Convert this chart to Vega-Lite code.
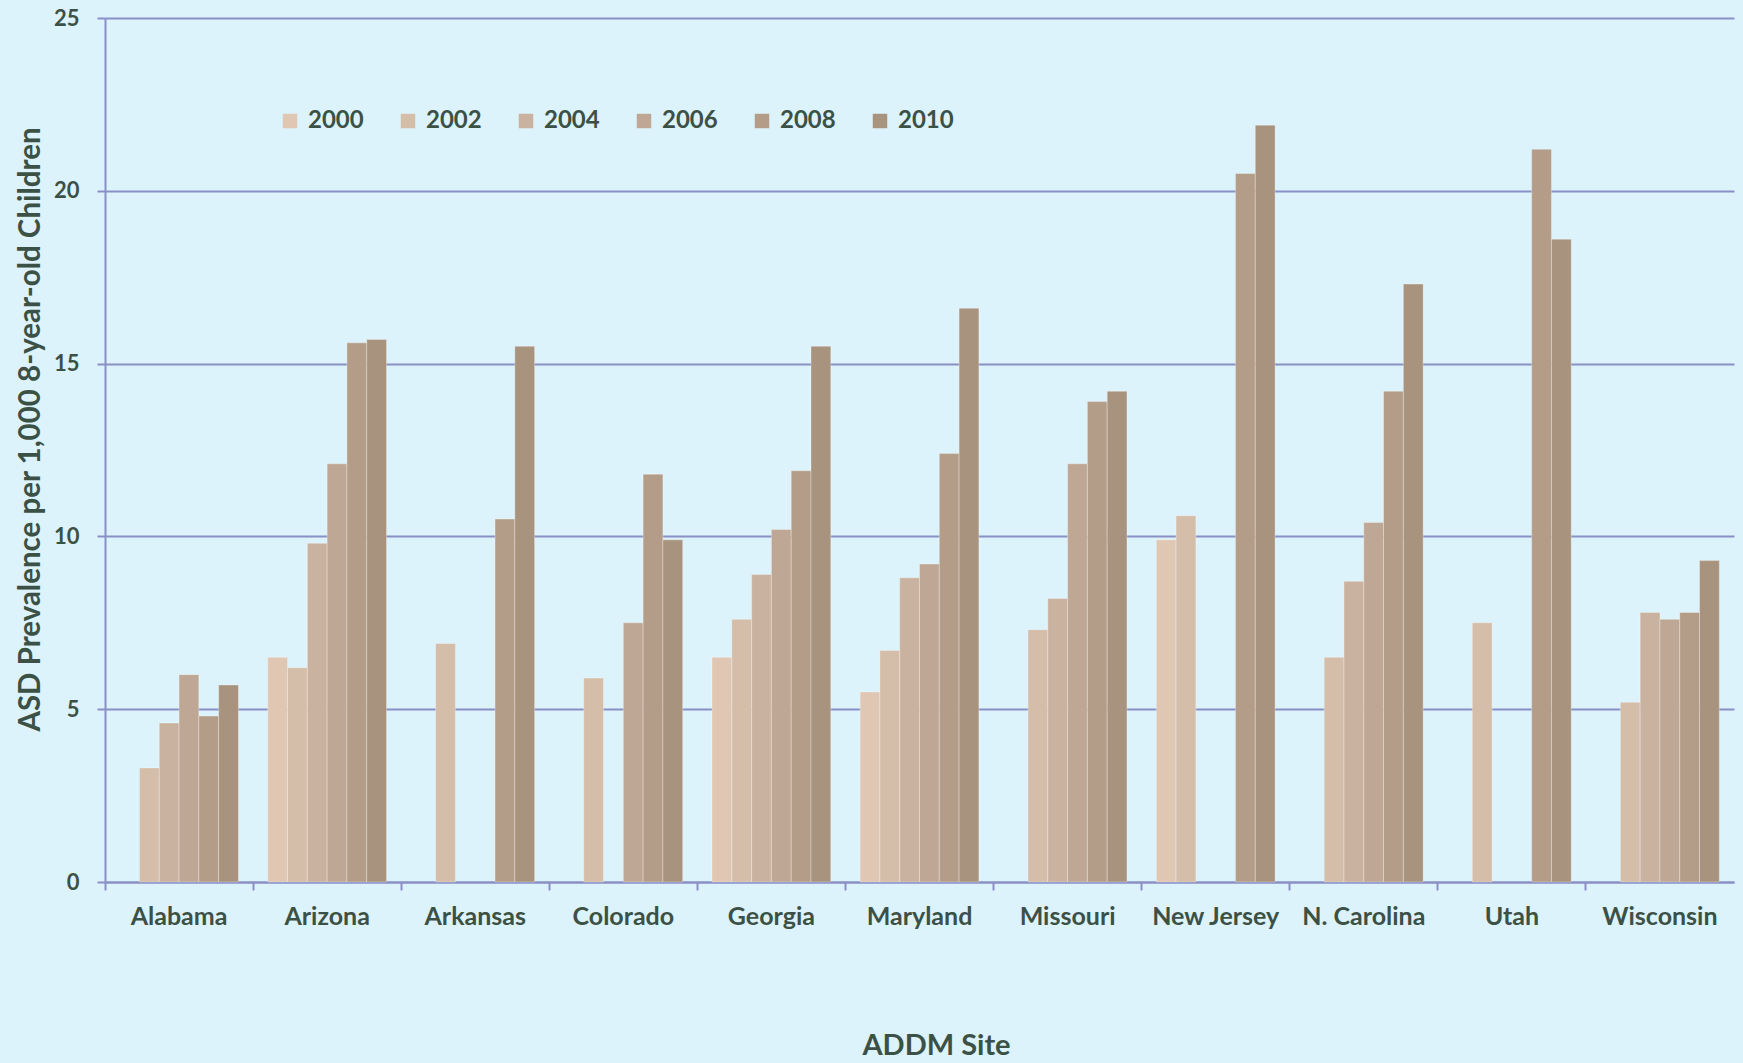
{
  "$schema": "https://vega.github.io/schema/vega-lite/v6.json",
  "width": 1629,
  "height": 864,
  "autosize": {"type": "none"},
  "padding": {"left": 105, "top": 18, "right": 9, "bottom": 181},
  "background": "#ddf3fc",
  "config": {
    "view": {"stroke": null},
    "font": "Lato"
  },
  "data": {
    "values": [
      {"site": "Alabama", "year": "2002", "value": 3.3},
      {"site": "Alabama", "year": "2004", "value": 4.6},
      {"site": "Alabama", "year": "2006", "value": 6.0},
      {"site": "Alabama", "year": "2008", "value": 4.8},
      {"site": "Alabama", "year": "2010", "value": 5.7},
      {"site": "Arizona", "year": "2000", "value": 6.5},
      {"site": "Arizona", "year": "2002", "value": 6.2},
      {"site": "Arizona", "year": "2004", "value": 9.8},
      {"site": "Arizona", "year": "2006", "value": 12.1},
      {"site": "Arizona", "year": "2008", "value": 15.6},
      {"site": "Arizona", "year": "2010", "value": 15.7},
      {"site": "Arkansas", "year": "2002", "value": 6.9},
      {"site": "Arkansas", "year": "2008", "value": 10.5},
      {"site": "Arkansas", "year": "2010", "value": 15.5},
      {"site": "Colorado", "year": "2002", "value": 5.9},
      {"site": "Colorado", "year": "2006", "value": 7.5},
      {"site": "Colorado", "year": "2008", "value": 11.8},
      {"site": "Colorado", "year": "2010", "value": 9.9},
      {"site": "Georgia", "year": "2000", "value": 6.5},
      {"site": "Georgia", "year": "2002", "value": 7.6},
      {"site": "Georgia", "year": "2004", "value": 8.9},
      {"site": "Georgia", "year": "2006", "value": 10.2},
      {"site": "Georgia", "year": "2008", "value": 11.9},
      {"site": "Georgia", "year": "2010", "value": 15.5},
      {"site": "Maryland", "year": "2000", "value": 5.5},
      {"site": "Maryland", "year": "2002", "value": 6.7},
      {"site": "Maryland", "year": "2004", "value": 8.8},
      {"site": "Maryland", "year": "2006", "value": 9.2},
      {"site": "Maryland", "year": "2008", "value": 12.4},
      {"site": "Maryland", "year": "2010", "value": 16.6},
      {"site": "Missouri", "year": "2002", "value": 7.3},
      {"site": "Missouri", "year": "2004", "value": 8.2},
      {"site": "Missouri", "year": "2006", "value": 12.1},
      {"site": "Missouri", "year": "2008", "value": 13.9},
      {"site": "Missouri", "year": "2010", "value": 14.2},
      {"site": "New Jersey", "year": "2000", "value": 9.9},
      {"site": "New Jersey", "year": "2002", "value": 10.6},
      {"site": "New Jersey", "year": "2008", "value": 20.5},
      {"site": "New Jersey", "year": "2010", "value": 21.9},
      {"site": "N. Carolina", "year": "2002", "value": 6.5},
      {"site": "N. Carolina", "year": "2004", "value": 8.7},
      {"site": "N. Carolina", "year": "2006", "value": 10.4},
      {"site": "N. Carolina", "year": "2008", "value": 14.2},
      {"site": "N. Carolina", "year": "2010", "value": 17.3},
      {"site": "Utah", "year": "2002", "value": 7.5},
      {"site": "Utah", "year": "2008", "value": 21.2},
      {"site": "Utah", "year": "2010", "value": 18.6},
      {"site": "Wisconsin", "year": "2002", "value": 5.2},
      {"site": "Wisconsin", "year": "2004", "value": 7.8},
      {"site": "Wisconsin", "year": "2006", "value": 7.6},
      {"site": "Wisconsin", "year": "2008", "value": 7.8},
      {"site": "Wisconsin", "year": "2010", "value": 9.3}
    ]
  },
  "mark": {"type": "bar", "stroke": "#ffffff", "strokeOpacity": 0.3, "strokeWidth": 1},
  "encoding": {
    "x": {
      "field": "site",
      "type": "nominal",
      "sort": ["Alabama", "Arizona", "Arkansas", "Colorado", "Georgia", "Maryland", "Missouri", "New Jersey", "N. Carolina", "Utah", "Wisconsin"],
      "scale": {"paddingInner": 0, "paddingOuter": 0},
      "title": "ADDM Site",
      "axis": {
        "bandPosition": 0,
        "labelOffset": 0,
        "labelAngle": 0,
        "labelFont": "Lato",
        "labelFontSize": 25,
        "labelFontWeight": "bold",
        "labelColor": "#3c5146",
        "labelBaseline": "alphabetic",
        "labelPadding": 34,
        "tickSize": 8,
        "tickWidth": 2,
        "tickColor": "#8a8fc6",
        "domainColor": "#8a8fc6",
        "domainWidth": 2,
        "titleFont": "Lato",
        "titleFontSize": 29,
        "titleFontWeight": "bold",
        "titleColor": "#3c5146",
        "titleX": 831,
        "titleY": 172,
        "titleBaseline": "alphabetic"
      }
    },
    "xOffset": {
      "field": "year",
      "type": "nominal",
      "sort": ["2000", "2002", "2004", "2006", "2008", "2010"],
      "scale": {"paddingInner": 0, "paddingOuter": 0.74}
    },
    "y": {
      "field": "value",
      "type": "quantitative",
      "scale": {"domain": [0, 25], "nice": false},
      "title": "ASD Prevalence per 1,000 8-year-old Children",
      "axis": {
        "values": [0, 5, 10, 15, 20, 25],
        "grid": true,
        "gridColor": "#8a8fc6",
        "gridWidth": 2,
        "gridOpacity": 1,
        "domainColor": "#8a8fc6",
        "domainWidth": 2,
        "tickSize": 8,
        "tickWidth": 2,
        "tickColor": "#8a8fc6",
        "labelFont": "Lato",
        "labelFontSize": 22,
        "labelFontWeight": "bold",
        "labelColor": "#3c5146",
        "labelPadding": 18,
        "titleFont": "Lato",
        "titleFontSize": 29.5,
        "titleFontWeight": "bold",
        "titleColor": "#3c5146",
        "titleX": -66,
        "titleY": 411,
        "titleBaseline": "alphabetic"
      }
    },
    "color": {
      "field": "year",
      "type": "nominal",
      "sort": ["2000", "2002", "2004", "2006", "2008", "2010"],
      "scale": {"range": ["#dfc7b3", "#d4bda9", "#c9b29f", "#bea794", "#b39d89", "#a8937f"]},
      "legend": {
        "title": null,
        "orient": "none",
        "legendX": 173,
        "legendY": 91,
        "direction": "horizontal",
        "padding": 0,
        "symbolType": "square",
        "symbolSize": 210,
        "symbolStrokeWidth": 0,
        "labelFont": "Lato",
        "labelFontSize": 24,
        "labelFontWeight": "bold",
        "labelColor": "#3c5146",
        "labelOffset": 6,
        "columnPadding": 32,
        "gridAlign": "all"
      }
    }
  }
}
